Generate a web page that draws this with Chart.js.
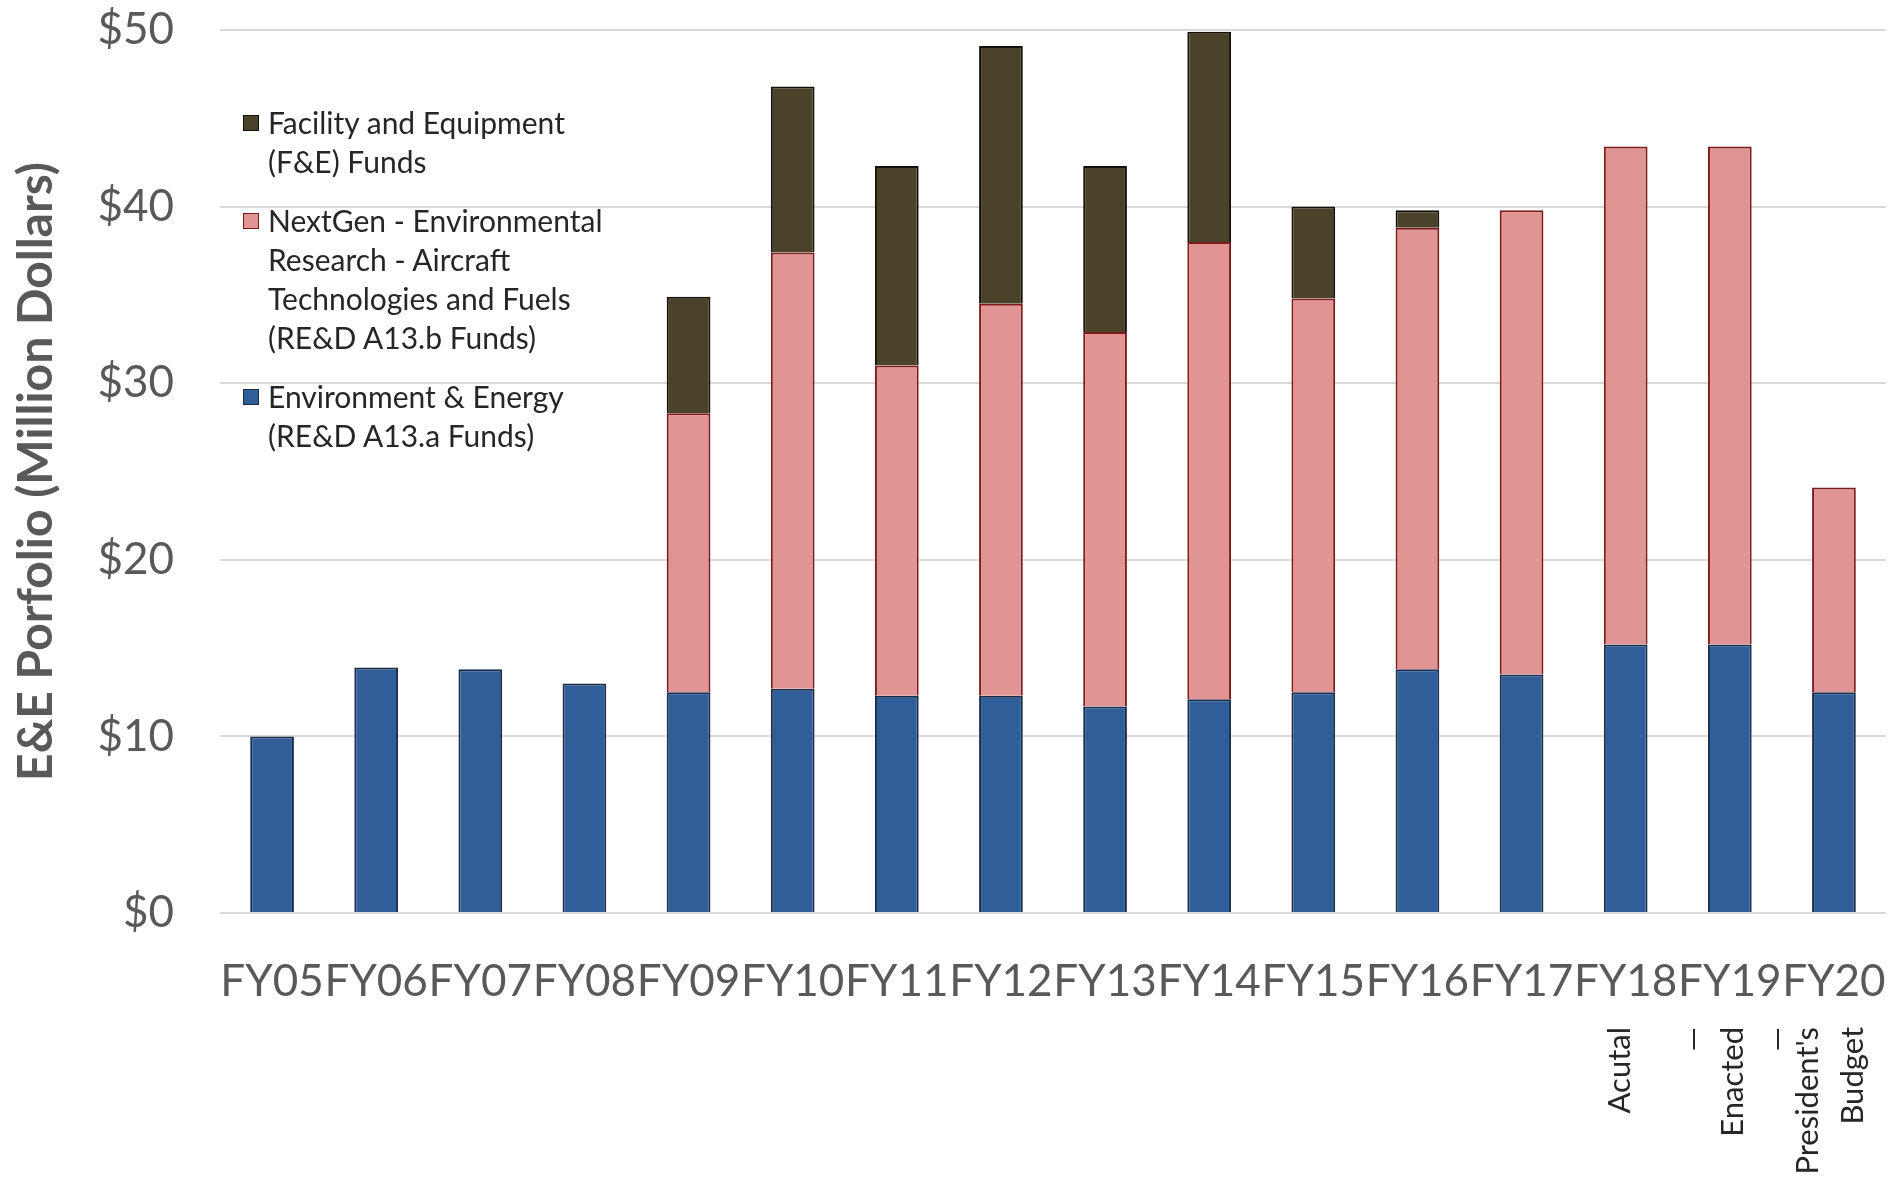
<!DOCTYPE html>
<html><head><meta charset="utf-8">
<script src="https://cdn.jsdelivr.net/npm/chart.js@4"></script>
<style>
html,body{margin:0;padding:0;background:#fff;}
#wrap{position:relative;width:1904px;height:1182px;}
#legend{position:absolute;left:243px;top:103px;font-family:Lato,sans-serif;font-size:30px;line-height:39px;color:#262626;}
.item{display:flex;align-items:flex-start;margin-bottom:20px;}
.sw{width:16px;height:16px;margin-top:12px;margin-right:9px;box-sizing:border-box;border:1.5px solid;flex:none;}
</style></head>
<body><div id="wrap"><canvas id="c" width="1904" height="1182"></canvas><div id="legend"></div></div>
<script>
const categories = ['FY05','FY06','FY07','FY08','FY09','FY10','FY11','FY12','FY13','FY14','FY15','FY16','FY17','FY18','FY19','FY20'];
const eeFunds      = [10.0, 13.9, 13.8, 13.0, 12.5, 12.7, 12.3, 12.3, 11.7, 12.1, 12.5, 13.8, 13.5, 15.2, 15.2, 12.5];
const nextGenFunds = [null, null, null, null, 15.8, 24.7, 18.7, 22.2, 21.2, 25.9, 22.3, 25.0, 26.3, 28.2, 28.2, 11.6];
const feFunds      = [null, null, null, null, 6.6, 9.4, 11.3, 14.6, 9.4, 11.9, 5.2, 1.0, null, null, null, null];
const eeLabel      = ['Environment & Energy', '(RE&D A13.a Funds)'];
const nextGenLabel = ['NextGen - Environmental', 'Research - Aircraft', 'Technologies and Fuels', '(RE&D A13.b Funds)'];
const feLabel      = ['Facility and Equipment', '(F&E) Funds'];
const noteLabels   = ['Acutal', '\u2014', 'Enacted', '\u2014', "President's", 'Budget'];
const noteAt       = [12.95, 13.65, 14.03, 14.45, 14.75, 15.18];
const yTitle = 'E&E Porfolio (Million Dollars)';

function noPad(s) { s.paddingTop = 0; s.paddingBottom = 0; s.paddingLeft = 0; s.paddingRight = 0; }

const chart = new Chart(document.getElementById('c'), {
  type: 'bar',
  data: {
    labels: categories,
    datasets: [
      {label: eeLabel.join(' '), lines: eeLabel, data: eeFunds, backgroundColor: '#2f5e98', borderColor: '#1b2c4a', borderWidth: 2, xAxisID: 'x', yAxisID: 'y'},
      {label: nextGenLabel.join(' '), lines: nextGenLabel, data: nextGenFunds, backgroundColor: '#e09494', borderColor: '#7d1a1a', borderWidth: 2, xAxisID: 'x', yAxisID: 'y'},
      {label: feLabel.join(' '), lines: feLabel, data: feFunds, backgroundColor: '#4a4329', borderColor: '#141208', borderWidth: 2, xAxisID: 'x', yAxisID: 'y'}
    ]
  },
  options: {
    responsive: false, animation: false, devicePixelRatio: 1,
    layout: {padding: {top: 30, right: 18, left: 0, bottom: 0}},
    plugins: {legend: {display: false}, tooltip: {enabled: false}},
    datasets: {bar: {barPercentage: 0.42, categoryPercentage: 1}},
    scales: {
      x: {type: 'category', stacked: true, offset: true, weight: 0,
          grid: {display: false, drawTicks: false}, border: {display: false},
          ticks: {color: '#595959', font: {family: 'Lato', size: 44}, padding: 42, maxRotation: 0, autoSkip: false},
          afterFit(s) { s.height = 95; noPad(s); }},
      x2: {type: 'linear', position: 'bottom', weight: 1, min: -0.5, max: 15.5, offset: false, bounds: 'data',
           grid: {display: false, drawTicks: false}, border: {display: false},
           afterBuildTicks(s) { s.ticks = noteAt.map(v => ({value: v})); },
           ticks: {callback: (v, i) => noteLabels[i], minRotation: 90, maxRotation: 90, autoSkip: false,
                   padding: 19, color: '#262626', font: {family: 'Lato', size: 31}},
           afterFit(s) { s.height = 174; noPad(s); }},
      y: {stacked: true, min: 0, max: 50,
          ticks: {stepSize: 10, callback: v => '$' + v, color: '#595959', font: {family: 'Lato', size: 44}, padding: 46},
          grid: {color: '#d9d9d9', lineWidth: 2, drawTicks: false}, border: {display: false},
          title: {display: true, text: yTitle, color: '#595959', font: {family: 'Lato', size: 48, weight: 'bold'}, padding: {top: 8, bottom: 0}},
          afterFit(s) { s.width = 220; noPad(s); }}
    }
  }
});

const legend = document.getElementById('legend');
chart.data.datasets.slice().reverse().forEach(ds => {
  const item = document.createElement('div');
  item.className = 'item';
  const sw = document.createElement('div');
  sw.className = 'sw';
  sw.style.background = ds.backgroundColor;
  sw.style.borderColor = ds.borderColor;
  const txt = document.createElement('div');
  txt.innerHTML = ds.lines.map(l => l.replace(/&/g, '&amp;')).join('<br>');
  item.appendChild(sw); item.appendChild(txt);
  legend.appendChild(item);
});
</script>
</body></html>
